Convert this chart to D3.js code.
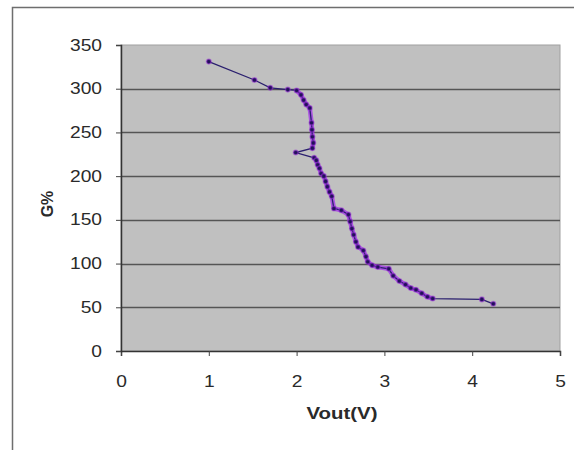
<!DOCTYPE html>
<html>
<head>
<meta charset="utf-8">
<script src="https://cdn.jsdelivr.net/npm/d3@7"></script>
<style>
  body { margin: 0; background: #fff; }
  svg { display: block; }
  .tick text { font-family: "Liberation Sans", Arial, sans-serif; }
</style>
</head>
<body>
<svg id="chart" width="574" height="450"></svg>
<script>
// Vout (V) readings and the matching G% values
const vout = [1.0, 1.52, 1.70, 1.90, 2.00, 2.05, 2.08, 2.11, 2.15, 2.17, 2.175, 2.18, 2.19, 2.18,
  1.99, 2.20, 2.225, 2.24, 2.26, 2.28, 2.31, 2.33, 2.35, 2.375, 2.40, 2.425, 2.51, 2.59, 2.61,
  2.63, 2.65, 2.675, 2.70, 2.76, 2.79, 2.81, 2.86, 2.925, 3.05, 3.10, 3.17, 3.24, 3.30, 3.36,
  3.425, 3.49, 3.55, 4.11, 4.24];
const gPct = [331, 310, 301, 299, 298, 293, 287, 282, 278, 261, 253, 245, 238, 232,
  227, 221, 218, 213, 209, 203, 200, 194, 188, 182, 177, 163, 161, 156, 148,
  140, 133, 125, 119, 115, 108, 102, 98, 96, 94, 86, 80, 76, 72, 70,
  66, 62, 60, 59, 54];
const xTicks = [0, 1, 2, 3, 4, 5];
const yTicks = [0, 50, 100, 150, 200, 250, 300, 350];
const gridLines = [50, 100, 150, 200, 250, 300];

const svg = d3.select('#chart');
const plot = { left: 121, right: 560, top: 45, bottom: 351 };
const font = '"Liberation Sans", Arial, sans-serif';
const stretch = 1.2; // the source picture is a bit wide, text included

// chart area frame (only the top and left edges are in view)
svg.append('path')
  .attr('d', 'M12.5,450 V7.5 H574')
  .attr('fill', 'none')
  .attr('stroke', '#6e6e6e')
  .attr('stroke-width', 1.5);

const x = d3.scaleLinear().domain([0, 5]).range([plot.left, plot.right]);
const y = d3.scaleLinear().domain([0, 350]).range([plot.bottom, plot.top]);

svg.append('rect')
  .attr('x', plot.left).attr('y', plot.top)
  .attr('width', plot.right - plot.left).attr('height', plot.bottom - plot.top)
  .attr('fill', '#c0c0c0')
  .attr('stroke', '#a0a0a0');

svg.append('g').selectAll('line')
  .data(gridLines)
  .join('line')
  .attr('x1', plot.left).attr('x2', plot.right)
  .attr('y1', d => Math.round(y(d)) + 0.5).attr('y2', d => Math.round(y(d)) + 0.5)
  .attr('stroke', '#555')
  .attr('stroke-width', 1.5);

const xAxis = svg.append('g')
  .attr('transform', `translate(0,${plot.bottom})`)
  .call(d3.axisBottom(x).tickValues(xTicks).tickFormat(d3.format('d')).tickSize(5).tickPadding(20));
const yAxis = svg.append('g')
  .attr('transform', `translate(${plot.left},0)`)
  .call(d3.axisLeft(y).tickValues(yTicks).tickFormat(d3.format('d')).tickSize(5).tickPadding(14));

[xAxis, yAxis].forEach(g => {
  g.select('.domain').attr('stroke', '#333').attr('stroke-width', 1.5);
  g.selectAll('.tick line').attr('stroke', '#444');
  g.selectAll('.tick text')
    .attr('font-size', 16)
    .attr('fill', '#2a2a2a')
    .attr('transform', `scale(${stretch},1)`);
});
yAxis.selectAll('.tick text').attr('x', -19 / stretch);

const pts = vout.map((v, i) => [v, gPct[i]]);
const line = d3.line().x(d => x(d[0])).y(d => y(d[1]));

// purple halo under the dense runs of points (the spike near 2 V stays plain)
[pts.slice(4, 14), pts.slice(15, 47)].forEach(run => {
  svg.append('path')
    .datum(run)
    .attr('fill', 'none')
    .attr('stroke', '#a028ec')
    .attr('stroke-opacity', 0.7)
    .attr('stroke-width', 4.5)
    .attr('stroke-linejoin', 'round')
    .attr('stroke-linecap', 'round')
    .attr('d', line);
});

svg.append('path')
  .datum(pts)
  .attr('fill', 'none')
  .attr('stroke', '#2a1f6e')
  .attr('stroke-width', 1.3)
  .attr('d', line);

svg.append('g').selectAll('circle')
  .data(pts)
  .join('circle')
  .attr('cx', d => x(d[0]))
  .attr('cy', d => y(d[1]))
  .attr('r', 2.3)
  .attr('fill', '#22105a')
  .attr('stroke', '#9a30d8')
  .attr('stroke-opacity', 0.5)
  .attr('stroke-width', 1.5);

svg.append('text')
  .attr('transform', `translate(342,419) scale(${stretch},1)`)
  .attr('text-anchor', 'middle')
  .attr('font-family', font)
  .attr('font-weight', 'bold')
  .attr('font-size', 17)
  .attr('fill', '#2a2a2a')
  .text('Vout(V)');

svg.append('text')
  .attr('transform', 'translate(53,204) rotate(-90)')
  .attr('text-anchor', 'middle')
  .attr('font-family', font)
  .attr('font-weight', 'bold')
  .attr('font-size', 16)
  .attr('fill', '#2a2a2a')
  .text('G%');
</script>
</body>
</html>
